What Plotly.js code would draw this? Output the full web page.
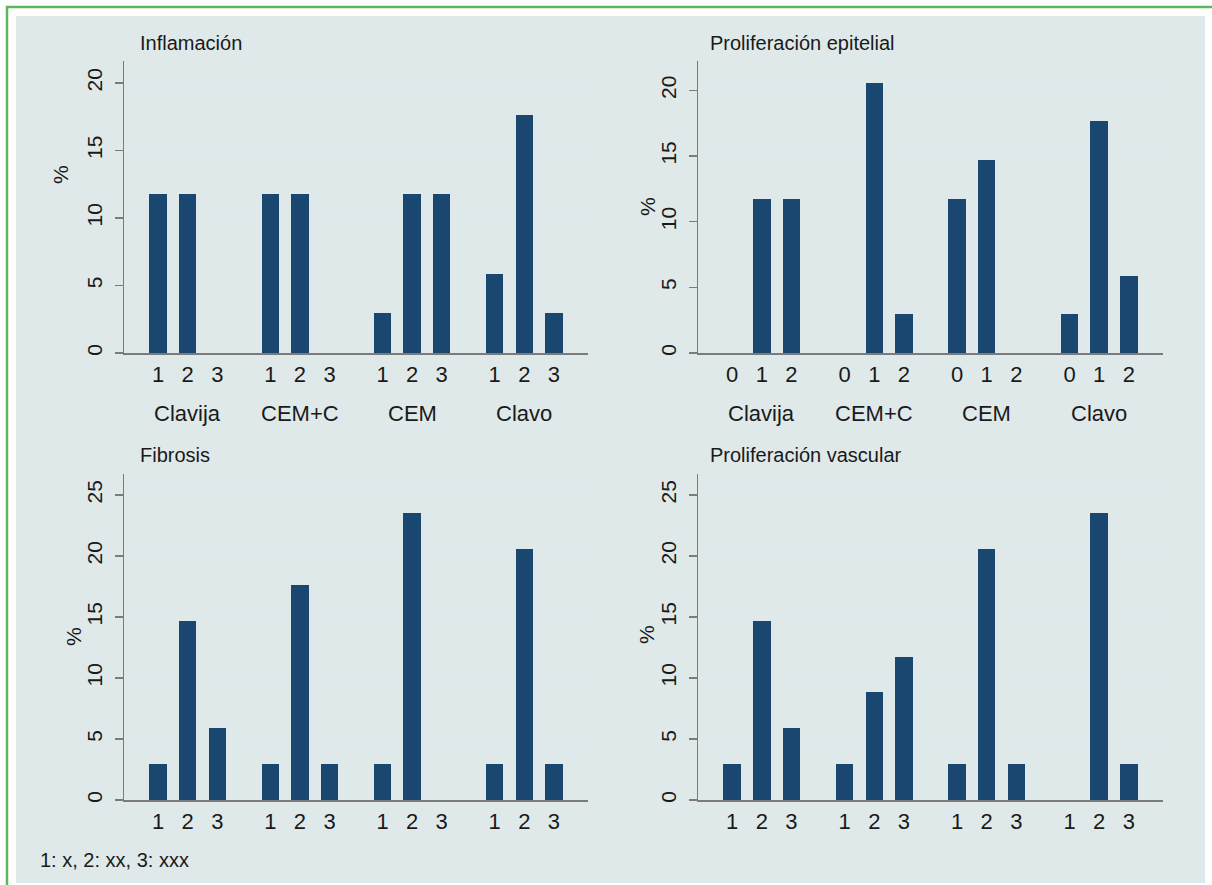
<!DOCTYPE html>
<html>
<head>
<meta charset="utf-8">
<script src="https://cdn.plot.ly/plotly-3.0.1.min.js"></script>
<style>html,body{margin:0;padding:0;background:#fff;}#chart{width:1212px;height:885px;}</style>
</head>
<body>
<div id="chart"></div>
<script>
// ---- data ----
const groups = ['Clavija', 'CEM+C', 'CEM', 'Clavo'];
const gradeLabels = ['1', '2', '3'];
const epiLabels = ['0', '1', '2'];
const inflamacion = [11.76, 11.76, 0, 11.76, 11.76, 0, 2.94, 11.76, 11.76, 5.88, 17.65, 2.94];
const prolifEpitelial = [0, 11.76, 11.76, 0, 20.59, 2.94, 11.76, 14.71, 0, 2.94, 17.65, 5.88];
const fibrosis = [2.94, 14.71, 5.88, 2.94, 17.65, 2.94, 2.94, 23.53, 0, 2.94, 20.59, 2.94];
const prolifVascular = [2.94, 14.71, 5.88, 2.94, 8.82, 11.76, 2.94, 20.59, 2.94, 0, 23.53, 2.94];
const titles = ['Inflamación', 'Proliferación epitelial', 'Fibrosis', 'Proliferación vascular'];
const yTicksTop = [0, 5, 10, 15, 20];
const yTicksBottom = [0, 5, 10, 15, 20, 25];
const footNote = '1: x, 2: xx, 3: xxx';

// ---- layout helpers ----
const W = 1212, H = 885;
const GS = 3.79;              // group spacing in bar units
const BAR_COLOR = '#1a476f';
const BG = '#dfe9e9';
const GRID = '#e0e9ec';
const AXIS = '#7b7b7b';
const FONT = 'Liberation Sans, Arial, sans-serif';
const px = v => v / W;
const py = v => 1 - v / H;

function positions() {
  const xs = [];
  groups.forEach((g, gi) => { for (let k = 0; k < 3; k++) xs.push(gi * GS + k); });
  return xs;
}
const xs = positions();

const panels = [
  {vals: inflamacion, ticks: gradeLabels, box: [124, 588, 61, 353], ymax: 21.63, yt: yTicksTop, groupLabels: true, pct: [60, 175]},
  {vals: prolifEpitelial, ticks: epiLabels, box: [698, 1163, 61, 353], ymax: 22.24, yt: yTicksTop, groupLabels: true, pct: [648, 207]},
  {vals: fibrosis, ticks: gradeLabels, box: [124, 588, 474, 800], ymax: 26.72, yt: yTicksBottom, groupLabels: false, pct: [73, 637]},
  {vals: prolifVascular, ticks: gradeLabels, box: [698, 1163, 474, 800], ymax: 26.72, yt: yTicksBottom, groupLabels: false, pct: [646, 635]}
];

const data = [];
const layout = {
  width: W, height: H,
  margin: {l: 0, r: 0, t: 0, b: 0},
  paper_bgcolor: '#ffffff',
  plot_bgcolor: '#ffffff',
  showlegend: false,
  font: {family: FONT, color: '#1a1a1a'},
  bargap: 0,
  shapes: [
    {type: 'rect', xref: 'paper', yref: 'paper', x0: px(16), x1: px(1205), y0: py(883), y1: py(16),
     fillcolor: BG, line: {width: 0}, layer: 'below'},
    {type: 'line', xref: 'paper', yref: 'paper', x0: px(6), x1: 1, y0: py(7), y1: py(7),
     line: {color: '#5cb85c', width: 2.5}},
    {type: 'line', xref: 'paper', yref: 'paper', x0: px(7), x1: px(7), y0: 0, y1: py(6),
     line: {color: '#5cb85c', width: 2.5}}
  ],
  annotations: []
};

panels.forEach((p, i) => {
  const n = i + 1;
  const xa = 'x' + (n === 1 ? '' : n), ya = 'y' + (n === 1 ? '' : n);
  data.push({
    type: 'bar', x: xs, y: p.vals, width: 0.59,
    marker: {color: BAR_COLOR, line: {width: 0}},
    xaxis: xa, yaxis: ya, hoverinfo: 'y'
  });
  const [x0, x1, y0, y1] = p.box;
  const ticktext = [];
  groups.forEach(() => p.ticks.forEach(t => ticktext.push(t)));
  layout['xaxis' + (n === 1 ? '' : n)] = {
    domain: [px(x0), px(x1)], anchor: ya,
    range: [-1.15, 3 * GS + 2 + 1.15],
    tickmode: 'array', tickvals: xs, ticktext: ticktext,
    ticks: '', showgrid: false, zeroline: false,
    showline: true, linecolor: AXIS, linewidth: 1.5,
    tickfont: {size: 22, family: FONT, color: '#1a1a1a'},
    ticklabelstandoff: 1, fixedrange: true
  };
  layout['yaxis' + (n === 1 ? '' : n)] = {
    domain: [py(y1), py(y0)], anchor: xa,
    range: [0, p.ymax],
    tickmode: 'array', tickvals: p.yt, ticktext: p.yt.map(String),
    tickangle: -90,
    ticks: 'outside', ticklen: 8, tickcolor: AXIS, tickwidth: 1.2,
    showgrid: true, gridcolor: GRID, gridwidth: 1.5,
    zeroline: false, showline: true, linecolor: AXIS, linewidth: 1.5,
    tickfont: {size: 21, family: FONT, color: '#1a1a1a'},
    ticklabelstandoff: 4, fixedrange: true
  };
  // panel title
  layout.annotations.push({
    text: titles[i], xref: 'paper', yref: 'paper',
    x: px(i % 2 === 0 ? 138 : 708), y: py(i < 2 ? 43 : 455),
    xanchor: 'left', yanchor: 'middle', showarrow: false,
    font: {size: 20, family: FONT, color: '#1a1a1a'}
  });
  // y title
  layout.annotations.push({
    text: '%', xref: 'paper', yref: 'paper',
    x: px(p.pct[0]), y: py(p.pct[1]), textangle: -90,
    xanchor: 'center', yanchor: 'middle', showarrow: false,
    font: {size: 21, family: FONT, color: '#1a1a1a'}
  });
  if (p.groupLabels) {
    groups.forEach((g, gi) => {
      layout.annotations.push({
        text: g, xref: xa, yref: 'paper',
        x: gi * GS + 1, y: py(413),
        xanchor: 'center', yanchor: 'middle', showarrow: false,
        font: {size: 22, family: FONT, color: '#1a1a1a'}
      });
    });
  }
});

layout.annotations.push({
  text: footNote, xref: 'paper', yref: 'paper',
  x: px(38), y: py(860), xanchor: 'left', yanchor: 'middle', showarrow: false,
  font: {size: 20, family: FONT, color: '#1a1a1a'}
});

Plotly.newPlot('chart', data, layout, {displayModeBar: false, staticPlot: true});
</script>
</body>
</html>
